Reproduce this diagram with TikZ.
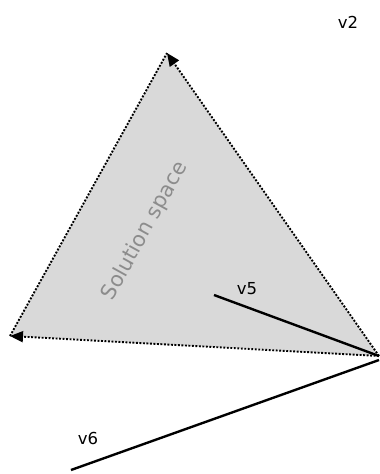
\documentclass[tikz,border=0pt]{standalone}
\usepackage{fontspec}
\setmainfont{DejaVu Sans}
\usetikzlibrary{arrows.meta}
\definecolor{solfill}{HTML}{D9D9D9}
\definecolor{soltext}{HTML}{8C8C8C}
\begin{document}
\begin{tikzpicture}[x=1pt,y=-1pt,
  dotedge/.style={line width=1.9pt,dash pattern=on 1.9pt off 1.6pt},
  tipstyle/.style={-{Triangle[length=13pt,width=11pt]}},
  vec/.style={line width=2.4pt},
  lbl/.style={font=\fontsize{16.5}{19}\selectfont,inner sep=0pt}]
\useasboundingbox (0,0) rectangle (380,474);
\coordinate (top) at (167,53);
\coordinate (left) at (10,336);
\coordinate (right) at (379,356);
\coordinate (v5s) at (214,295);
\coordinate (v6s) at (71,470);
\coordinate (v6e) at (379,360);
\fill[solfill] (top) -- (left) -- (right) -- cycle;
\draw[dotedge] (left) -- (top);
\draw[dotedge,tipstyle] (right) -- (top);
\draw[dotedge,tipstyle] (right) -- (left);
\draw[vec] (v5s) -- (right);
\draw[vec] (v6s) -- (v6e);
\node[lbl] (v2) at (348,22) {v2};
\node[lbl] (v5) at (247,289) {v5};
\node[lbl] (v6) at (88,438) {v6};
\node[font=\fontsize{21}{24}\selectfont,text=soltext,rotate=61,inner sep=0pt] (sol) at (145,231) {Solution space};
\end{tikzpicture}
\end{document}
